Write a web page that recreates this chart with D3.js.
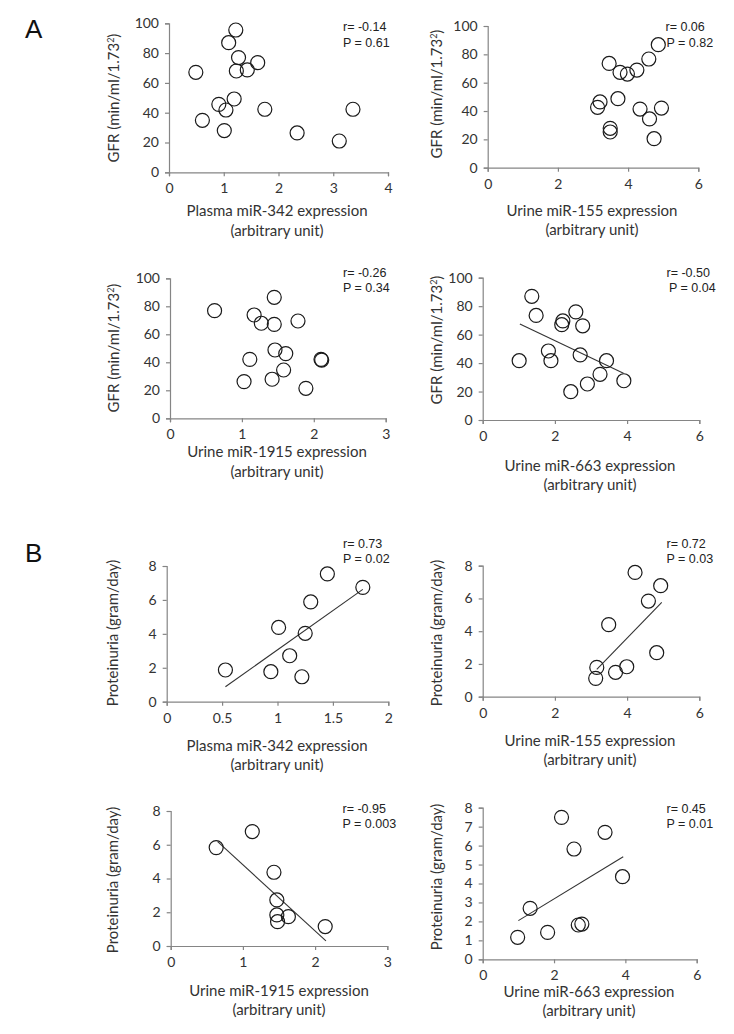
<!DOCTYPE html>
<html><head><meta charset="utf-8">
<script src="https://cdn.jsdelivr.net/npm/d3@7"></script>
<style>
body{margin:0;background:#fff;}
svg{display:block;}
</style></head>
<body>
<svg id="chart" width="734" height="1034"></svg>
<script>
// ---------- DATA ----------
// Panel A1: Plasma miR-342 vs GFR
const a1X = [0.49,1.22,1.09,1.27,1.62,1.43,1.23,0.91,1.19,1.04,0.61,1.01,1.75,2.34,3.11,3.36];
const a1Y = [67.1,95.5,87,77,73.6,68.7,68,45.6,49.2,41.8,34.9,28,42.3,26.4,21,42.3];
// Panel A2: Urine miR-155 vs GFR
const a2X = [3.46,3.77,3.98,4.25,4.59,4.86,3.20,3.13,3.71,4.34,4.95,4.61,4.74,3.49,3.49];
const a2Y = [73.6,67.3,66.1,68.9,76.7,86.8,46.4,42.6,48.7,41.4,42.1,34.4,20.5,27.8,25.2];
// Panel A3: Urine miR-1915 vs GFR
const a3X = [0.62,1.45,1.17,1.27,1.45,1.78,1.46,1.61,1.11,2.10,2.11,1.58,1.03,1.42,1.89];
const a3Y = [76.9,86.4,73.8,67.9,67.1,69.5,48.8,46.2,42.1,42.1,41.6,34.5,26.2,27.9,21.4];
// Panel A4: Urine miR-663 vs GFR
const a4X = [1.36,1.48,1.01,1.82,1.89,2.22,2.19,2.58,2.77,2.70,3.43,3.25,2.90,2.44,3.91];
const a4Y = [86.9,73.5,41.7,48.5,41.7,69.6,67.0,76.0,66.2,45.7,41.7,32.1,25.3,19.9,27.6];
const a4Fit = [[1.03,67.4],[3.90,32.8]];
// Panel B1: Plasma miR-342 vs Proteinuria
const b1X = [0.53,0.94,1.01,1.11,1.22,1.25,1.30,1.45,1.77];
const b1Y = [1.87,1.77,4.38,2.71,1.47,4.03,5.88,7.53,6.74];
const b1Fit = [[0.53,0.88],[1.77,6.62]];
// Panel B2: Urine miR-155 vs Proteinuria
const b2X = [4.22,4.93,4.59,3.49,4.82,3.16,3.99,3.68,3.13];
const b2Y = [7.59,6.78,5.84,4.40,2.69,1.79,1.83,1.49,1.12];
const b2Fit = [[3.16,1.67],[4.96,5.76]];
// Panel B3: Urine miR-1915 vs Proteinuria
const b3X = [0.63,1.13,1.43,1.47,1.47,1.48,1.63,2.14];
const b3Y = [5.83,6.78,4.37,2.73,1.84,1.44,1.74,1.15];
const b3Fit = [[0.65,6.19],[2.15,0.30]];
// Panel B4: Urine miR-663 vs Proteinuria
const b4X = [2.21,3.43,2.56,3.92,1.33,2.68,2.78,1.82,0.98];
const b4Y = [7.49,6.70,5.82,4.36,2.69,1.81,1.86,1.42,1.16];
const b4Fit = [[1.00,2.04],[3.94,5.41]];

// tick values
const ticksX4 = [0,1,2,3,4];
const ticksX6 = [0,2,4,6];
const ticksX3 = [0,1,2,3];
const ticksX2 = [0,0.5,1,1.5,2];
const ticksGFR = [0,20,40,60,80,100];
const ticksProt2 = [0,2,4,6,8];
const ticksProt1 = [0,1,2,3,4,5,6,7,8];

// texts
const rTexts = ["r= -0.14","r= 0.06","r= -0.26","r= -0.50","r= 0.73","r= 0.72","r= -0.95","r= 0.45"];
const pTexts = ["P = 0.61","P = 0.82","P = 0.34","P = 0.04","P = 0.02","P = 0.03","P = 0.003","P = 0.01"];
const xTitles = ["Plasma miR-342 expression","Urine miR-155 expression","Urine miR-1915 expression","Urine miR-663 expression",
                 "Plasma miR-342 expression","Urine miR-155 expression","Urine miR-1915 expression","Urine miR-663 expression"];
const xSub = "(arbitrary unit)";
const panelLetters = ["A","B"];

// ---------- LAYOUT ----------
const panels = [
 {x:a1X,y:a1Y,fit:null, xd:[0,4],xt:ticksX4,yd:[0,100],yt:ticksGFR, xr:[169,388],yr:[172.3,23.3], ann:[343,31,343,47], xl:[277,216,236], yl:[114,98], gfr:true},
 {x:a2X,y:a2Y,fit:null, xd:[0,6],xt:ticksX6,yd:[0,100],yt:ticksGFR, xr:[487.7,698.3],yr:[167.7,26], ann:[665.5,31,666.5,47], xl:[592,216,235], yl:[437,94], gfr:true},
 {x:a3X,y:a3Y,fit:null, xd:[0,3],xt:ticksX3,yd:[0,100],yt:ticksGFR, xr:[170,385.7],yr:[418.3,278.3], ann:[343,277,343,292], xl:[277,457,477], yl:[114,348], gfr:true},
 {x:a4X,y:a4Y,fit:a4Fit, xd:[0,6],xt:ticksX6,yd:[0,100],yt:ticksGFR, xr:[482.7,699.3],yr:[420,277.7], ann:[666.5,277,669,292], xl:[590,471,490], yl:[437,340], gfr:true},
 {x:b1X,y:b1Y,fit:b1Fit, xd:[0,2],xt:ticksX2,yd:[0,8],yt:ticksProt2, xr:[166.7,388.3],yr:[701.7,566], ann:[343,548,343,563], xl:[277,751,770], yl:[113,633], gfr:false},
 {x:b2X,y:b2Y,fit:b2Fit, xd:[0,6],xt:ticksX6,yd:[0,8],yt:ticksProt2, xr:[482.7,699.3],yr:[696.7,565.7], ann:[666.5,548,666.5,563], xl:[590,746,765], yl:[437,633], gfr:false},
 {x:b3X,y:b3Y,fit:b3Fit, xd:[0,3],xt:ticksX3,yd:[0,8],yt:ticksProt2, xr:[170.7,387.3],yr:[946,811], ann:[342.5,813,342.5,828], xl:[279,996,1015], yl:[113,880], gfr:false},
 {x:b4X,y:b4Y,fit:b4Fit, xd:[0,6],xt:ticksX6,yd:[0,8],yt:ticksProt1, xr:[482.7,696.7],yr:[959.3,807.7], ann:[666.5,813,666.5,828], xl:[589,997,1016], yl:[437,877], gfr:false}
];

const svg = d3.select("#chart");
const axisColor = "#858585";
const textColor = "#333";
const tickFont = "Lato, 'Open Sans', sans-serif";
const annFont = "'Liberation Sans', Arial, sans-serif";

svg.append("text").attr("x",25).attr("y",38).attr("font-family",annFont).attr("font-size",26).attr("fill","#111").text(panelLetters[0]);
svg.append("text").attr("x",25).attr("y",562).attr("font-family",annFont).attr("font-size",26).attr("fill","#111").text(panelLetters[1]);

panels.forEach((p,i)=>{
  const g = svg.append("g");
  const xs = d3.scaleLinear().domain(p.xd).range(p.xr);
  const ys = d3.scaleLinear().domain(p.yd).range(p.yr);

  const xAxis = d3.axisBottom(xs).tickValues(p.xt).tickSize(4).tickPadding(7).tickFormat(d3.format("~g"));
  const gx = g.append("g").attr("transform",`translate(0,${p.yr[0]})`).call(xAxis);
  const yAxis = d3.axisLeft(ys).tickValues(p.yt).tickSize(4).tickPadding(6).tickFormat(d3.format("~g"));
  const gy = g.append("g").attr("transform",`translate(${p.xr[0]},0)`).call(yAxis);
  [gx,gy].forEach(a=>{
    a.select(".domain").attr("stroke",axisColor).attr("stroke-width",1.2);
    a.selectAll(".tick line").attr("stroke",axisColor).attr("stroke-width",1.2);
    a.selectAll(".tick text").attr("fill",textColor).attr("font-family",tickFont).attr("font-size",14);
  });

  if(p.fit){
    g.append("line")
      .attr("x1",xs(p.fit[0][0])).attr("y1",ys(p.fit[0][1]))
      .attr("x2",xs(p.fit[1][0])).attr("y2",ys(p.fit[1][1]))
      .attr("stroke","#333").attr("stroke-width",1.1);
  }
  const pts = p.x.map((v,k)=>[v,p.y[k]]);
  g.selectAll("circle.pt").data(pts).enter().append("circle")
    .attr("cx",d=>xs(d[0])).attr("cy",d=>ys(d[1])).attr("r",7)
    .attr("fill","none").attr("stroke","#1a1a1a").attr("stroke-width",1.2);

  g.append("text").attr("x",p.ann[0]).attr("y",p.ann[1]).attr("font-family",annFont).attr("font-size",12.5).attr("fill","#222").text(rTexts[i]);
  g.append("text").attr("x",p.ann[2]).attr("y",p.ann[3]).attr("font-family",annFont).attr("font-size",12.5).attr("fill","#222").text(pTexts[i]);

  g.append("text").attr("x",p.xl[0]).attr("y",p.xl[1]).attr("text-anchor","middle").attr("font-family",tickFont).attr("font-size",15).attr("fill",textColor).text(xTitles[i]);
  g.append("text").attr("x",p.xl[0]).attr("y",p.xl[2]).attr("text-anchor","middle").attr("font-family",tickFont).attr("font-size",15).attr("fill",textColor).text(xSub);

  const yt = g.append("text").attr("transform",`translate(${p.yl[0]},${p.yl[1]}) rotate(-90)`)
    .attr("text-anchor","middle").attr("dy","0.35em").attr("font-family",tickFont).attr("font-size",15).attr("fill",textColor);
  if(p.gfr){
    yt.append("tspan").text("GFR (min/ml/1.73");
    yt.append("tspan").attr("baseline-shift","super").attr("font-size",9).text("2");
    yt.append("tspan").text(")");
  } else {
    yt.text("Proteinuria (gram/day)");
  }
});
</script>
</body></html>
